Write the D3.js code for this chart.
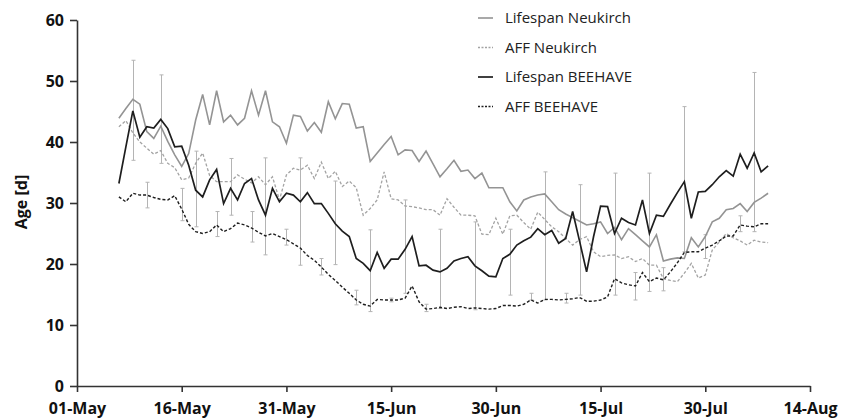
<!DOCTYPE html>
<html>
<head>
<meta charset="utf-8">
<script src="https://cdn.jsdelivr.net/npm/d3@7/dist/d3.min.js"></script>
<style>
  html, body { margin: 0; padding: 0; background: #fff; }
  svg { display: block; }
</style>
</head>
<body>
<svg id="chart" width="848" height="418"></svg>
<script>
// ---- data ----
const firstDate = "2013-05-07";           // first daily observation
const axisStart = "2013-05-01";
const axisEnd = "2013-08-14";
const yTicks = [0, 10, 20, 30, 40, 50, 60];

const lifespanNeukirch = [
  43.9,45.5,47.0,46.2,41.7,40.6,42.6,40.1,37.9,36.0,38.1,43.6,47.8,42.8,48.4,43.3,44.4,42.8,43.9,48.4,
  44.4,48.4,43.3,42.5,39.8,44.4,44.2,41.8,43.2,41.6,46.6,43.8,46.3,46.2,42.3,42.5,36.8,38.2,39.6,40.9,
  37.9,38.7,38.6,36.8,38.5,36.4,34.3,35.6,37.0,35.2,35.4,34.0,34.9,32.5,32.5,32.5,30.2,28.7,30.5,31.0,
  31.3,31.5,30.2,28.9,28.2,27.6,27.0,26.4,26.6,26.9,25.0,26.0,24.0,25.8,24.8,23.8,22.8,24.8,20.5,20.8,
  21.0,20.9,24.3,22.8,24.5,26.9,27.5,28.9,29.1,29.9,28.6,30.1,30.8,31.6
];
const affNeukirch = [
  42.5,43.5,41.5,40.0,39.0,38.0,38.6,36.5,35.8,33.8,34.1,36.5,38.2,34.5,33.5,33.5,33.5,34.6,33.9,33.3,
  34.3,33.0,34.3,30.5,34.6,35.7,35.4,36.2,34.0,36.7,34.0,35.2,32.7,33.6,32.5,28.0,29.1,30.5,35.1,30.7,
  30.5,29.5,29.4,29.2,28.9,28.9,28.0,30.7,29.3,28.0,28.0,27.9,24.9,24.8,27.5,24.9,27.9,28.0,26.8,25.7,
  28.5,27.3,26.1,25.3,24.2,23.1,24.0,24.5,22.0,21.2,21.4,21.5,20.9,21.2,20.4,20.9,19.8,19.8,17.6,17.3,
  17.1,18.5,20.1,17.7,18.2,22.3,23.6,25.0,24.3,23.8,23.1,23.9,23.6,23.5
];
const lifespanBeehave = [
  33.2,39.2,45.1,40.8,42.5,42.3,43.7,42.2,39.2,39.3,36.2,32.1,31.0,33.8,35.5,29.9,32.4,30.5,33.2,34.0,
  30.5,28.0,32.4,30.2,31.6,31.3,30.2,31.7,29.9,29.9,28.3,26.6,25.4,24.5,20.9,20.1,18.9,21.9,19.3,20.8,
  20.8,22.4,24.5,19.7,19.8,19.0,18.7,19.3,20.5,20.9,21.2,19.7,18.9,18.0,17.9,20.9,21.6,23.1,23.8,24.4,
  25.8,24.8,25.5,23.4,24.2,28.6,23.7,18.7,24.5,29.5,29.4,25.0,27.5,26.8,26.4,30.5,25.0,28.0,27.8,29.8,
  31.7,33.5,27.5,31.8,31.9,33.0,34.3,35.3,34.4,38.0,35.7,38.2,35.1,36.1
];
const affBeehave = [
  31.0,30.2,31.6,31.3,31.3,30.9,30.6,30.5,31.2,29.0,26.5,25.3,25.0,25.3,26.4,25.3,25.8,26.7,26.4,25.9,
  25.2,24.6,25.0,24.5,24.0,23.3,22.6,21.4,20.6,19.5,18.3,17.3,16.2,15.2,14.1,13.4,13.1,14.2,14.1,14.1,
  14.1,14.4,16.4,13.8,12.6,12.7,12.9,12.7,12.9,13.0,12.7,12.8,12.7,12.6,12.7,13.2,13.2,13.1,13.4,14.1,
  13.6,14.2,14.2,14.1,14.2,14.3,14.5,13.9,13.9,14.1,14.6,17.6,16.9,16.6,16.4,18.6,17.1,17.7,17.4,18.7,
  20.2,21.9,22.0,22.0,22.6,23.1,23.8,24.6,24.6,26.4,26.2,26.1,26.6,26.6
];

// error bars (low / high) on the BEEHAVE series
const lbErrDates = ["2013-05-09","2013-05-13","2013-05-18","2013-05-23","2013-05-28","2013-06-02","2013-06-07","2013-06-12","2013-06-17","2013-06-22","2013-06-27","2013-07-02","2013-07-07","2013-07-12","2013-07-17","2013-07-22","2013-07-27","2013-08-06"];
const lbErrLow  = [37.0,36.5,26.1,28.0,21.5,19.8,19.9,12.2,15.2,12.7,12.5,14.9,14.1,14.9,14.9,15.5,22.0,25.3];
const lbErrHigh = [53.4,51.0,38.5,37.3,37.4,37.4,33.6,25.6,30.5,25.7,26.9,25.7,35.1,33.0,34.9,34.9,45.8,51.4];
const abErrDates = ["2013-05-11","2013-05-16","2013-05-21","2013-05-26","2013-05-31","2013-06-05","2013-06-10","2013-06-15","2013-06-20","2013-07-05","2013-07-10","2013-07-20","2013-07-24","2013-07-30","2013-08-04"];
const abErrLow  = [29.2,27.1,24.5,23.6,23.1,18.2,13.3,13.8,12.2,14.1,13.6,14.1,15.6,20.9,25.3];
const abErrHigh = [33.4,32.4,28.6,28.6,25.7,20.9,15.7,14.4,13.4,15.2,15.2,18.6,19.4,24.8,27.9];

const seriesNames = ["Lifespan Neukirch","AFF Neukirch","Lifespan BEEHAVE","AFF BEEHAVE"];

// ---- chart ----
const parse = d3.timeParse("%Y-%m-%d");
const W = 848, H = 418;
const margin = {left: 77, right: 38, top: 20, bottom: 32};
const svg = d3.select("#chart");

const x = d3.scaleTime()
  .domain([parse(axisStart), parse(axisEnd)])
  .range([margin.left, W - margin.right]);
const y = d3.scaleLinear().domain([0, 60]).range([H - margin.bottom, margin.top]);

const start = parse(firstDate);
const dates = lifespanNeukirch.map((_, i) => d3.timeDay.offset(start, i));

const styles = [
  {data: lifespanNeukirch, color: "#949494", width: 1.6, dash: null},
  {data: affNeukirch,      color: "#a3a3a3", width: 1.3, dash: "3,2"},
  {data: lifespanBeehave,  color: "#1e1e1e", width: 1.7, dash: null},
  {data: affBeehave,       color: "#1e1e1e", width: 1.4, dash: "3,2"}
];

// error bars
const errColor = "#b4b4b4";
function drawErr(datesArr, lo, hi) {
  const g = svg.append("g").attr("stroke", errColor).attr("stroke-width", 1).attr("fill", "none");
  datesArr.forEach((ds, i) => {
    const xx = Math.round(x(parse(ds))) + 0.5;
    g.append("line").attr("x1", xx).attr("x2", xx).attr("y1", y(lo[i])).attr("y2", y(hi[i]));
    g.append("line").attr("x1", xx - 2).attr("x2", xx + 2).attr("y1", y(lo[i])).attr("y2", y(lo[i]));
    g.append("line").attr("x1", xx - 2).attr("x2", xx + 2).attr("y1", y(hi[i])).attr("y2", y(hi[i]));
  });
}
drawErr(lbErrDates, lbErrLow, lbErrHigh);
drawErr(abErrDates, abErrLow, abErrHigh);

const line = d3.line().x((d, i) => x(dates[i])).y(d => y(d));
styles.forEach(s => {
  svg.append("path")
    .attr("d", line(s.data))
    .attr("fill", "none")
    .attr("stroke", s.color)
    .attr("stroke-width", s.width)
    .attr("stroke-linejoin", "miter")
    .attr("stroke-dasharray", s.dash);
});

// axes
const axisColor = "#333";
const yAxis = svg.append("g")
  .attr("transform", `translate(${margin.left},0)`)
  .call(d3.axisLeft(y).tickValues(yTicks).tickSize(7).tickPadding(6).tickSizeOuter(0));
const xTicks = d3.timeDay.range(parse(axisStart), d3.timeDay.offset(parse(axisEnd), 1), 15);
const xAxis = svg.append("g")
  .attr("transform", `translate(0,${H - margin.bottom})`)
  .call(d3.axisBottom(x).tickValues(xTicks).tickFormat(d3.timeFormat("%d-%b")).tickSize(6).tickPadding(8).tickSizeOuter(0));

[yAxis, xAxis].forEach(a => {
  a.select(".domain").attr("stroke", axisColor).attr("stroke-width", 1.6);
  a.selectAll(".tick line").attr("stroke", axisColor).attr("stroke-width", 1.6);
  a.selectAll(".tick text")
    .attr("fill", "#111")
    .style("font-family", "'Open Sans', sans-serif")
    .style("font-weight", "bold")
    .style("font-size", "16px");
});
xAxis.selectAll(".tick text").attr("dy", "0.88em");

svg.append("text")
  .attr("transform", `translate(27,202) rotate(-90)`)
  .attr("text-anchor", "middle")
  .style("font-family", "'Open Sans', sans-serif")
  .style("font-weight", "bold")
  .style("font-size", "16px")
  .attr("fill", "#111")
  .text("Age [d]");

// legend
const legend = svg.append("g").attr("transform", "translate(478,18)");
seriesNames.forEach((name, i) => {
  const s = styles[i];
  const gy = i * 29.5;
  legend.append("line")
    .attr("x1", 0).attr("x2", 15).attr("y1", gy).attr("y2", gy)
    .attr("stroke", s.color).attr("stroke-width", s.width)
    .attr("stroke-dasharray", s.dash ? "2,1.5" : null);
  legend.append("text")
    .attr("x", 27).attr("y", gy).attr("dy", "0.35em")
    .style("font-family", "'Open Sans', sans-serif")
    .style("font-size", "15px")
    .attr("fill", "#222")
    .text(name);
});
</script>
</body>
</html>
